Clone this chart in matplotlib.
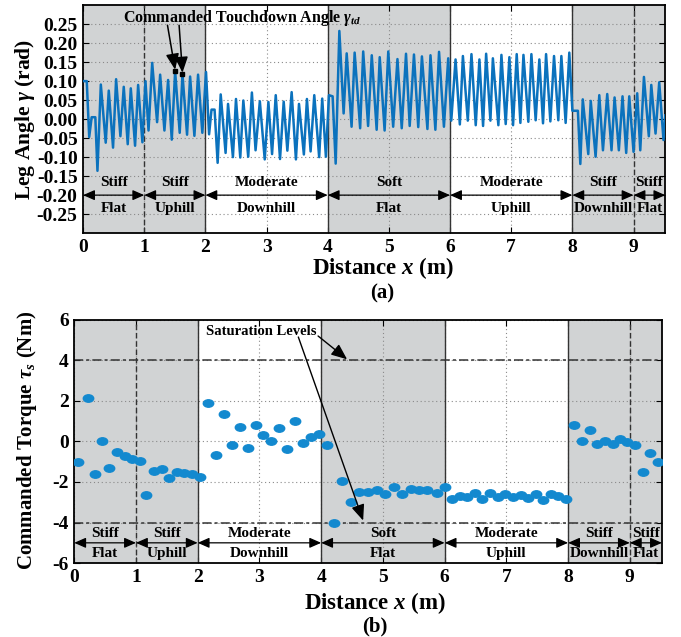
import matplotlib
matplotlib.use("Agg")
import matplotlib.pyplot as plt
from matplotlib.path import Path
from matplotlib.transforms import Affine2D

plt.rcParams['font.family'] = 'Liberation Serif'
plt.rcParams['font.weight'] = 'bold'
plt.rcParams['mathtext.fontset'] = 'custom'
plt.rcParams['mathtext.rm'] = 'Liberation Serif:bold'
plt.rcParams['mathtext.it'] = 'Liberation Serif:italic:bold'
plt.rcParams['mathtext.bf'] = 'Liberation Serif:bold'
plt.rcParams['axes.unicode_minus'] = False

# terrain segments along the track
seg_edges = [0, 1, 2, 4, 6, 8, 9, 9.52]
seg_stiffness = ['Stiff', 'Stiff', 'Moderate', 'Soft', 'Moderate', 'Stiff', 'Stiff']
seg_terrain = ['Flat', 'Uphill', 'Downhill', 'Flat', 'Uphill', 'Downhill', 'Flat']

# leg angle trace (peaks/troughs)
leg_x = [0.00, 0.06, 0.10, 0.14, 0.20, 0.235, 0.29, 0.37, 0.42, 0.49, 0.54, 0.61,
         0.665, 0.73, 0.78, 0.85, 0.90, 0.97, 1.02, 1.07, 1.13, 1.21, 1.26, 1.33,
         1.39, 1.45, 1.505, 1.58, 1.625, 1.70, 1.75, 1.82, 1.88, 1.95, 2.01, 2.06,
         2.10, 2.15, 2.20, 2.25, 2.33, 2.37, 2.45, 2.50, 2.57, 2.62, 2.70, 2.76,
         2.82, 2.89, 2.97, 3.03, 3.09, 3.15, 3.22, 3.28, 3.34, 3.41, 3.48, 3.53,
         3.61, 3.66, 3.72, 3.78, 3.86, 3.91, 3.97, 4.02, 4.08, 4.13, 4.19, 4.26,
         4.31, 4.39, 4.44, 4.53, 4.58, 4.66, 4.72, 4.80, 4.85, 4.93, 4.99, 5.07,
         5.14, 5.21, 5.28, 5.34, 5.41, 5.48, 5.54, 5.63, 5.68, 5.76, 5.82, 5.90,
         5.97, 6.02, 6.09, 6.16, 6.21, 6.29, 6.35, 6.42, 6.48, 6.54, 6.59, 6.66,
         6.70, 6.79, 6.84, 6.91, 6.97, 7.03, 7.09, 7.15, 7.20, 7.28, 7.33, 7.40,
         7.46, 7.52, 7.57, 7.64, 7.70, 7.77, 7.82, 7.89, 7.95, 8.00, 8.09, 8.13,
         8.17, 8.26, 8.30, 8.38, 8.44, 8.50, 8.57, 8.64, 8.69, 8.76, 8.82, 8.88,
         8.93, 9.00, 9.06, 9.11, 9.17, 9.25, 9.29, 9.36, 9.42, 9.49, 9.52]
leg_gamma = [0.100, 0.100, -0.047, 0.005, 0.005, -0.136, 0.091, -0.062, 0.075, -0.075,
             0.105, -0.045, 0.085, -0.066, 0.081, -0.070, 0.090, -0.061, 0.100, -0.030,
             0.148, -0.008, 0.117, -0.030, 0.103, -0.054, 0.126, -0.036, 0.118, -0.041,
             0.112, -0.044, 0.117, -0.036, 0.124, -0.040, 0.025, 0.025, -0.115, 0.065,
             -0.089, 0.040, -0.100, 0.053, -0.101, 0.049, -0.099, 0.070, -0.082, 0.047,
             -0.106, 0.045, -0.092, 0.063, -0.105, 0.046, -0.083, 0.071, -0.106, 0.040,
             -0.093, 0.053, -0.085, 0.063, -0.100, 0.054, -0.099, 0.063, 0.060, -0.117,
             0.232, 0.015, 0.173, -0.020, 0.175, -0.024, 0.178, -0.018, 0.168, -0.028,
             0.163, -0.030, 0.178, -0.020, 0.158, -0.024, 0.172, -0.018, 0.170, -0.021,
             0.165, -0.026, 0.168, -0.028, 0.177, -0.020, 0.160, -0.004, 0.157, -0.014,
             0.166, -0.004, 0.171, -0.016, 0.157, -0.018, 0.172, -0.004, 0.160, -0.016,
             0.169, -0.013, 0.163, -0.016, 0.171, -0.010, 0.169, -0.007, 0.171, -0.003,
             0.157, -0.011, 0.171, -0.006, 0.166, -0.003, 0.166, -0.010, 0.175, 0.022,
             0.022, -0.118, 0.052, -0.092, 0.048, -0.099, 0.063, -0.082, 0.066, -0.082,
             0.057, -0.082, 0.060, -0.089, 0.060, -0.086, 0.068, -0.082, 0.111, -0.045,
             0.090, -0.038, 0.097, -0.055, 0.010]

# commanded touchdown angles marked
td_x = [1.505, 1.625]
td_gamma = [0.126, 0.118]

# commanded torque per step
torque_x = [0.06, 0.22, 0.33, 0.45, 0.57, 0.70, 0.82, 0.94, 1.07, 1.17, 1.30, 1.42,
            1.54, 1.66, 1.78, 1.90, 2.03, 2.16, 2.29, 2.43, 2.55, 2.68, 2.81, 2.94,
            3.06, 3.19, 3.32, 3.45, 3.58, 3.71, 3.84, 3.97, 4.10, 4.21, 4.33, 4.48,
            4.62, 4.76, 4.90, 5.04, 5.18, 5.31, 5.45, 5.59, 5.72, 5.87, 6.00, 6.12,
            6.25, 6.36, 6.49, 6.61, 6.73, 6.86, 6.98, 7.10, 7.23, 7.35, 7.48, 7.60,
            7.72, 7.84, 7.97, 8.10, 8.23, 8.35, 8.47, 8.59, 8.72, 8.84, 8.96, 9.08,
            9.21, 9.33, 9.45]
torque_val = [-1.00, 2.16, -1.60, 0.03, -1.30, -0.51, -0.71, -0.86, -0.97, -2.62, -1.45,
              -1.35, -1.78, -1.50, -1.55, -1.60, -1.75, 1.90, -0.69, 1.34, -0.16, 0.71,
              -0.30, 0.81, 0.31, 0.02, 0.68, -0.36, 1.02, -0.07, 0.20, 0.36, -0.16, -4.00,
              -1.95, -3.00, -2.50, -2.50, -2.39, -2.57, -2.24, -2.60, -2.37, -2.39, -2.39,
              -2.54, -2.24, -2.83, -2.68, -2.75, -2.55, -2.85, -2.55, -2.73, -2.58, -2.73,
              -2.62, -2.78, -2.57, -2.91, -2.57, -2.67, -2.85, 0.81, 0.03, 0.54, -0.13,
              0.00, -0.12, 0.13, -0.03, -0.16, -1.51, -0.59, -0.99]
saturation = [4, -4]

shade = '#d1d3d4'
blue_line = '#0b72bd'
blue_dot = '#1389cf'


def decorate(ax, y_top, y_arrow, y_bot, fs=11):
    for i in range(len(seg_stiffness)):
        x0, x1 = seg_edges[i], seg_edges[i + 1]
        if seg_stiffness[i] != 'Moderate':
            ax.axvspan(x0, x1, color=shade, zorder=0.2, lw=0)
        xm = (x0 + x1) / 2
        ax.text(xm, y_top, seg_stiffness[i], ha='center', va='center', fontsize=fs)
        ax.text(xm, y_bot, seg_terrain[i], ha='center', va='center', fontsize=fs)
        ax.annotate('', xy=(x1, y_arrow), xytext=(x0, y_arrow),
                    arrowprops=dict(arrowstyle='<|-|>,head_length=0.5,head_width=0.22',
                                    color='k', lw=0.9, mutation_scale=14,
                                    shrinkA=0, shrinkB=0))
    for i in range(1, len(seg_stiffness)):
        same = (seg_stiffness[i] == 'Moderate') == (seg_stiffness[i - 1] == 'Moderate')
        ax.axvline(seg_edges[i], color='#333333', lw=1.0, zorder=1.5,
                   ls=(0, (4, 2)) if same else '-')
    ax.set_xlim(0, 9.52)
    ax.set_xticks(range(10))
    ax.set_axisbelow(True)
    ax.grid(True, color='#8a8a8a', lw=0.8, ls=(0, (1, 2.5)))
    ax.tick_params(direction='in', top=True, right=True, labelsize=14, length=4, pad=4)
    for sp in ax.spines.values():
        sp.set_linewidth(1.3)


fig = plt.figure(figsize=(6.81, 6.37), dpi=100)

# (a) leg angle
ax1 = fig.add_axes([0.122, 0.634, 0.855, 0.358])
decorate(ax1, -0.168, -0.2, -0.235)
ax1.plot(leg_x, leg_gamma, color=blue_line, lw=1.8, zorder=3,
         solid_joinstyle='round')
ax1.plot(td_x, td_gamma, 's', color='k', ms=3, zorder=4)
ax1.set_ylim(-0.3, 0.3)
ax1.set_yticks([-0.25, -0.2, -0.15, -0.1, -0.05, 0, 0.05, 0.1, 0.15, 0.2, 0.25])
ax1.set_yticklabels(['%.2f' % v for v in ax1.get_yticks()])
ax1.text(2.6, 0.266, r'Commanded Touchdown Angle $\gamma_{td}$', ha='center',
         va='center', fontsize=11.5, zorder=5)
for (sx, tx, ty) in [(1.38, td_x[0], td_gamma[0]), (1.57, td_x[1], td_gamma[1])]:
    ax1.annotate('', xy=(tx, ty + 0.004), xytext=(sx, 0.247),
                 arrowprops=dict(arrowstyle='-|>,head_length=0.6,head_width=0.25',
                                 color='k', lw=1.1, mutation_scale=16,
                                 shrinkA=0, shrinkB=0))
fig.text(0.563, 0.579, r'Distance $x$ (m)', ha='center', va='center', fontsize=16.5)
fig.text(0.561, 0.54, '(a)', ha='center', va='center', fontsize=15)
fig.text(0.036, 0.813, r'Leg Angle $\gamma$ (rad)', ha='center', va='center',
         rotation=90, fontsize=15.5)

# (b) commanded torque
ax2 = fig.add_axes([0.109, 0.116, 0.863, 0.382])
decorate(ax2, -4.55, -5.0, -5.55)
for s in saturation:
    ax2.axhline(s, color='#333333', lw=1.1, ls=(0, (6, 2, 2, 2)), zorder=1.6)
ell = Affine2D().scale(1.4, 1.0).transform_path(Path.unit_circle())
ax2.plot(torque_x, torque_val, ls='none', marker=ell, ms=7.5, color=blue_dot,
         mec=blue_dot, zorder=3)
ax2.set_ylim(-6, 6)
ax2.set_yticks(range(-6, 7, 2))
ax2.text(3.03, 5.42, 'Saturation Levels', ha='center', va='center', fontsize=10.5)
for (sx, sy, tx, ty) in [(3.95, 5.2, 4.42, 4.05), (3.63, 5.15, 4.68, -3.9)]:
    ax2.annotate('', xy=(tx, ty), xytext=(sx, sy),
                 arrowprops=dict(arrowstyle='-|>,head_length=0.6,head_width=0.25',
                                 color='k', lw=1.0, mutation_scale=16,
                                 shrinkA=0, shrinkB=0))
fig.text(0.551, 0.053, r'Distance $x$ (m)', ha='center', va='center', fontsize=16.5)
fig.text(0.551, 0.016, '(b)', ha='center', va='center', fontsize=15)
fig.text(0.04, 0.309, r'Commanded Torque $\tau_s$ (Nm)', ha='center', va='center',
         rotation=90, fontsize=15)

fig.savefig('out.png', dpi=100)
